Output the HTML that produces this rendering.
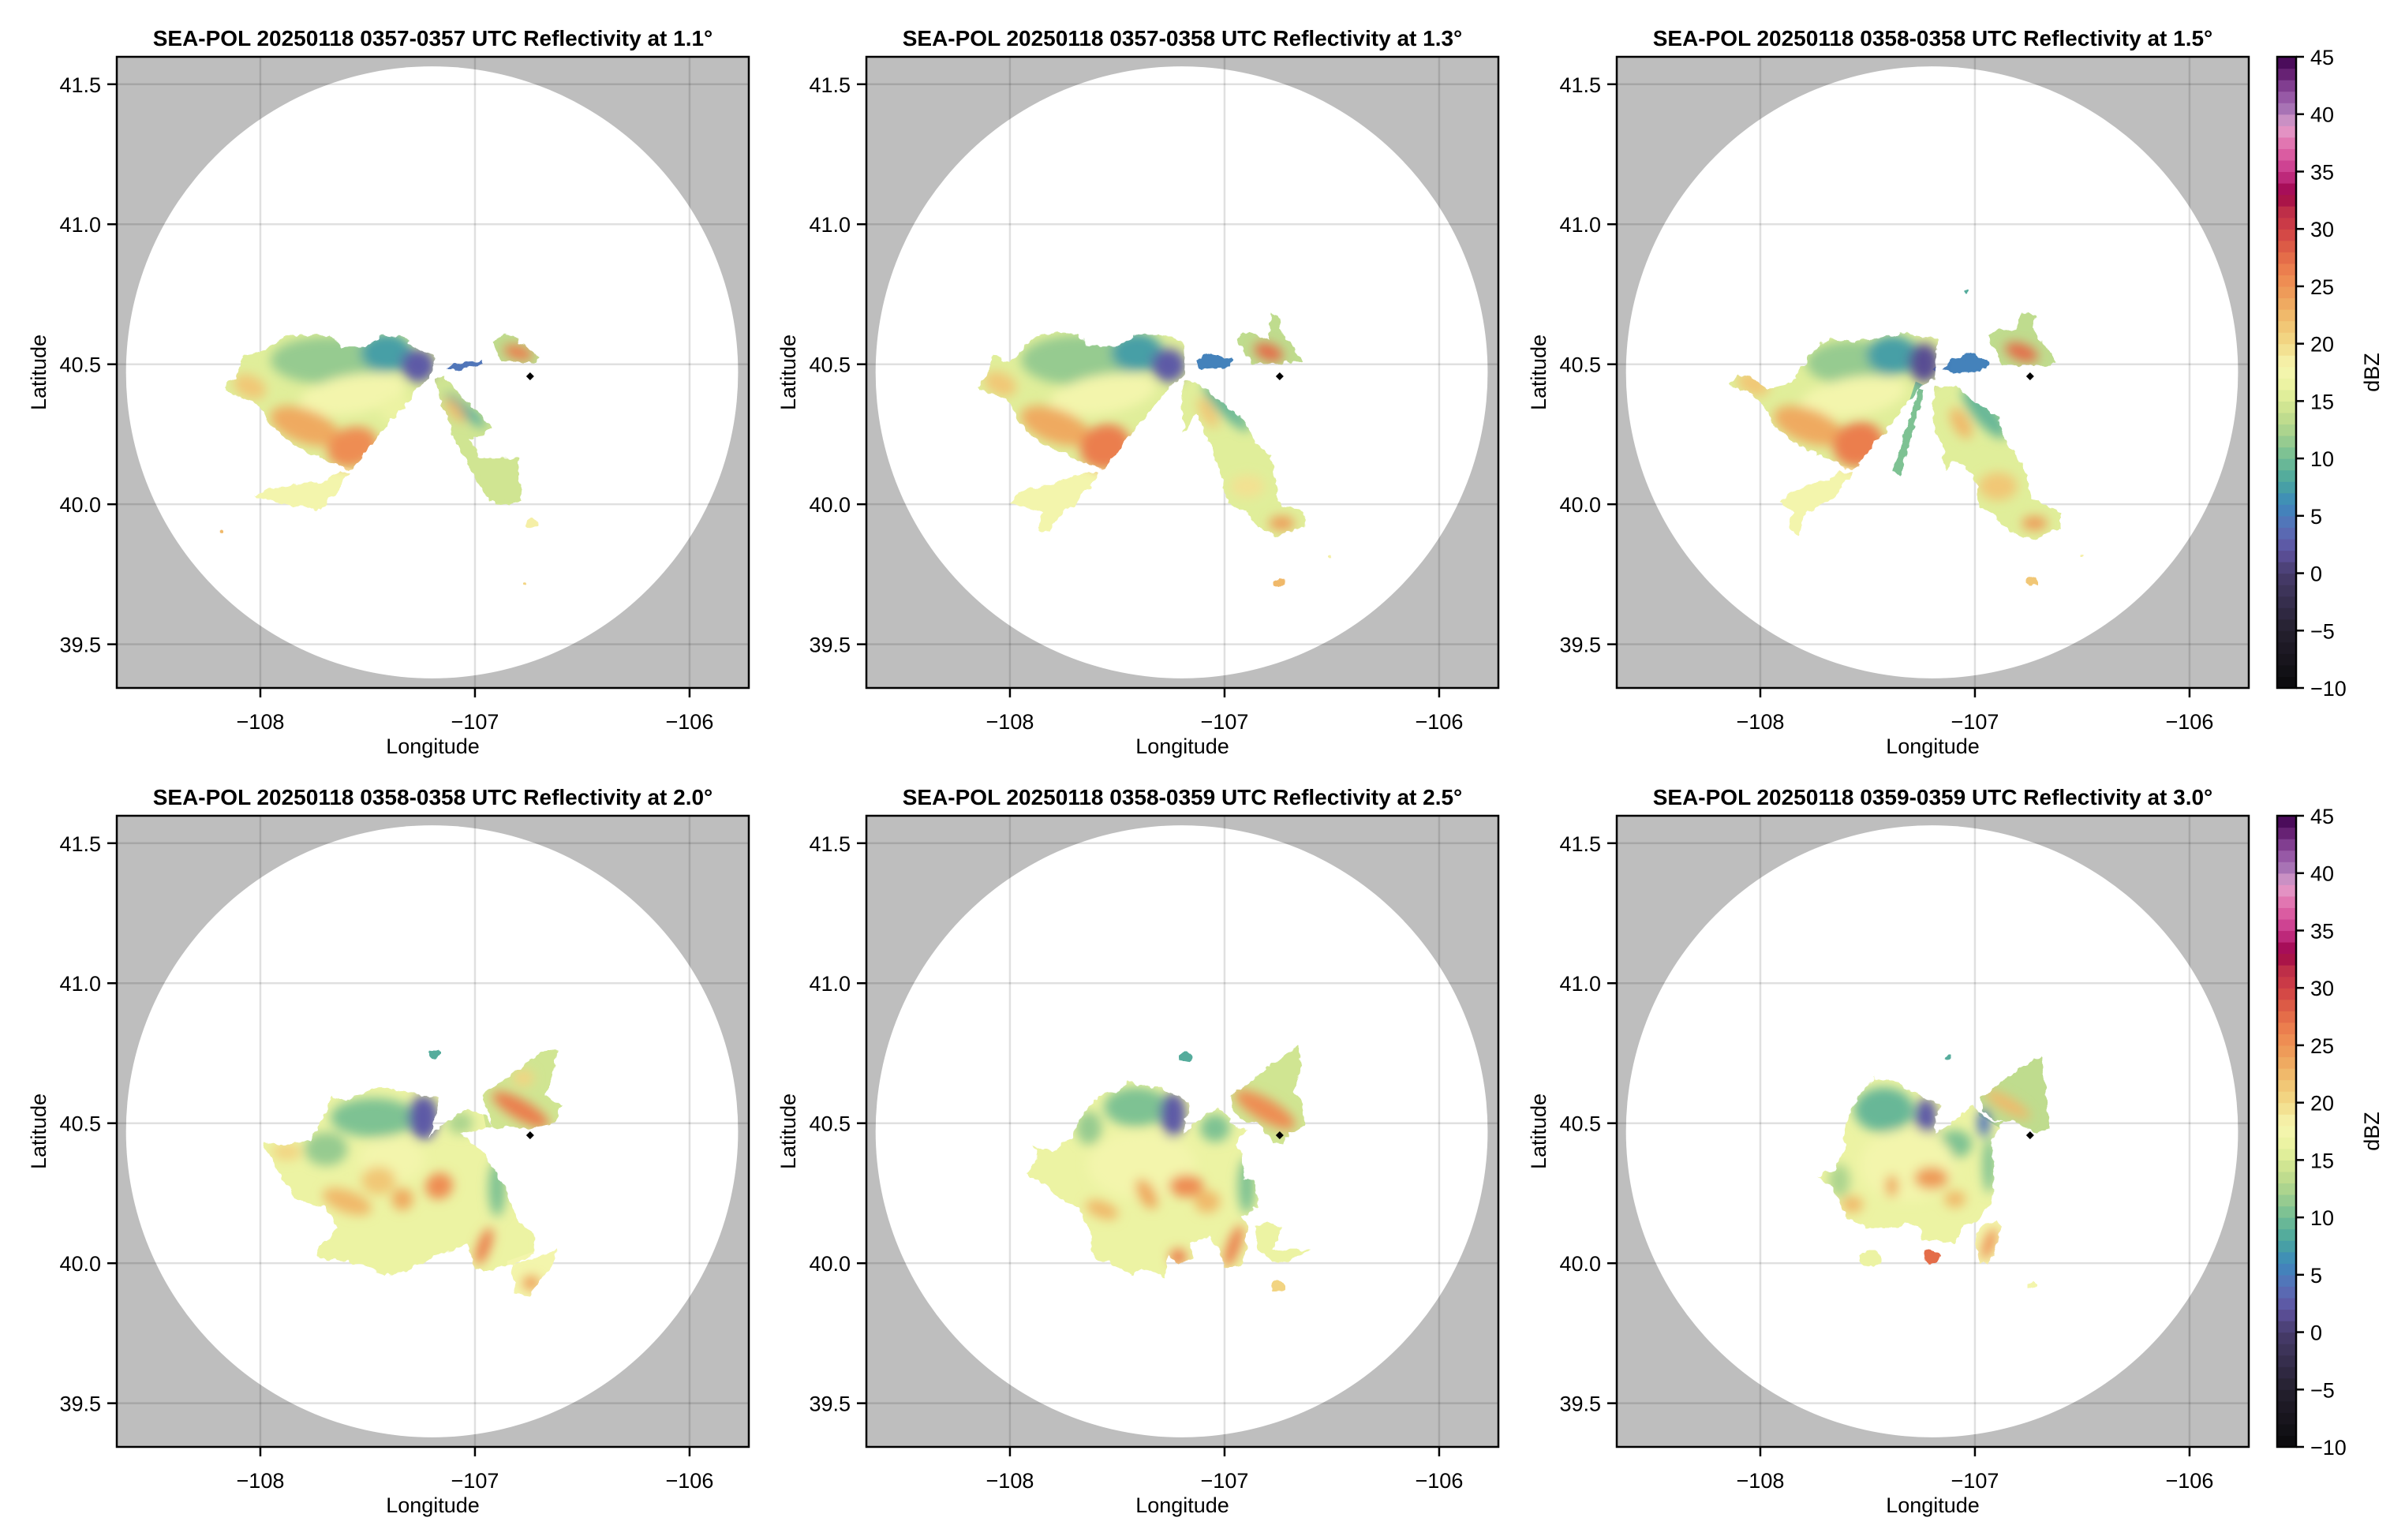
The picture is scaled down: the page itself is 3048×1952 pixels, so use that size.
<!DOCTYPE html>
<html><head><meta charset="utf-8"><style>
html,body{margin:0;padding:0;background:#fff}
svg{display:block}
text{font-family:"Liberation Sans",Arial,sans-serif;fill:#000}
</style></head><body>
<svg id="fig" width="3048" height="1952" viewBox="0 0 3048 1952" xmlns="http://www.w3.org/2000/svg">
<defs>
<filter id="rag" x="-5%" y="-5%" width="110%" height="110%"><feTurbulence type="fractalNoise" baseFrequency="0.09" numOctaves="2" seed="3"/><feDisplacementMap in="SourceGraphic" scale="10" xChannelSelector="R" yChannelSelector="G"/></filter>
<filter id="soft" x="-50%" y="-50%" width="200%" height="200%"><feGaussianBlur stdDeviation="7"/></filter>
</defs>
</svg>
<script>
// ---------- data ----------
const titles = ["SEA-POL 20250118 0357-0357 UTC Reflectivity at 1.1°","SEA-POL 20250118 0357-0358 UTC Reflectivity at 1.3°","SEA-POL 20250118 0358-0358 UTC Reflectivity at 1.5°","SEA-POL 20250118 0358-0358 UTC Reflectivity at 2.0°","SEA-POL 20250118 0358-0359 UTC Reflectivity at 2.5°","SEA-POL 20250118 0359-0359 UTC Reflectivity at 3.0°"];
const xTicks = [-108,-107,-106];
const yTicks = [39.5,40.0,40.5,41.0,41.5];
const cbTicks = [-10,-5,0,5,10,15,20,25,30,35,40,45];
const radarCenter = [-107.2, 40.471];
const radarRangeKm = 121.3;
const station = [-106.743, 40.457];

const p1Regions = [
 {dbz:15, pts:[[-108.166,40.420],[-108.111,40.458],[-108.086,40.533],[-108.0,40.542],[-107.890,40.599],[-107.804,40.603],[-107.682,40.608],[-107.620,40.561],[-107.510,40.561],[-107.424,40.603],[-107.326,40.594],[-107.265,40.552],[-107.185,40.528],[-107.216,40.448],[-107.234,40.439],[-107.584,40.120],[-107.682,40.153],[-107.853,40.214],[-107.951,40.279],[-108.0,40.354],[-108.160,40.406]]},
 {dbz:4, pts:[[-107.136,40.481],[-107.093,40.505],[-106.965,40.514],[-106.965,40.500],[-107.093,40.481]]},
 {dbz:13, pts:[[-106.916,40.580],[-106.848,40.608],[-106.738,40.552],[-106.696,40.519],[-106.726,40.505],[-106.879,40.509],[-106.897,40.547]]},
 {dbz:14, pts:[[-107.192,40.448],[-107.143,40.458],[-107.093,40.411],[-106.922,40.279],[-106.959,40.251],[-107.020,40.232],[-106.983,40.167],[-106.799,40.167],[-106.787,40.016],[-106.836,39.988],[-106.934,40.016],[-106.983,40.073],[-107.093,40.232],[-107.155,40.364]]},
 {dbz:17, pts:[[-107.633,40.120],[-107.584,40.110],[-107.718,39.979],[-107.768,39.988],[-107.853,39.998],[-108.025,40.026],[-107.976,40.054],[-107.841,40.073],[-107.682,40.082]]}
];
const p1Cells = [[-107.682,40.514,.27,.085,0,11],[-107.412,40.542,.12,.07,0,7],[-107.265,40.495,.08,.06,0,2],[-107.571,40.392,.25,.07,-10,17],[-108.049,40.420,.08,.04,25,21],[-107.792,40.279,.17,.06,20,23],[-107.571,40.204,.12,.07,-20,25],[-107.363,40.336,.08,.05,0,16],[-106.799,40.542,.07,.025,15,26],[-107.044,40.336,.12,.02,40,8],[-107.093,40.336,.07,.02,50,22]];
const p1Spots = [[-106.738,39.932,.03,18],[-108.184,39.901,.012,22],[-106.765,39.716,.008,20]];

const p2Regions = [
 {dbz:15, pts:[[-108.150,40.421],[-108.107,40.458],[-108.082,40.533],[-107.996,40.505],[-107.886,40.599],[-107.788,40.613],[-107.678,40.608],[-107.629,40.561],[-107.506,40.561],[-107.420,40.604],[-107.310,40.604],[-107.200,40.590],[-107.181,40.533],[-107.188,40.458],[-107.237,40.439],[-107.567,40.120],[-107.678,40.158],[-107.849,40.214],[-107.960,40.289],[-107.996,40.364],[-108.143,40.411]]},
 {dbz:5, pts:[[-107.139,40.505],[-107.077,40.538],[-106.955,40.515],[-106.967,40.491],[-107.126,40.482]]},
 {dbz:13, pts:[[-106.942,40.594],[-106.893,40.618],[-106.795,40.590],[-106.783,40.684],[-106.734,40.665],[-106.746,40.627],[-106.697,40.580],[-106.636,40.515],[-106.734,40.505],[-106.881,40.505],[-106.918,40.561]]},
 {dbz:15, pts:[[-107.188,40.439],[-107.139,40.439],[-107.089,40.411],[-106.893,40.289],[-106.857,40.214],[-106.783,40.176],[-106.759,40.083],[-106.759,40.007],[-106.624,39.970],[-106.624,39.923],[-106.746,39.885],[-106.844,39.914],[-106.893,39.970],[-106.979,39.998],[-107.016,40.101],[-107.065,40.214],[-107.139,40.327],[-107.188,40.252],[-107.200,40.364]]},
 {dbz:17, pts:[[-107.629,40.120],[-107.580,40.111],[-107.678,40.017],[-107.751,39.970],[-107.825,39.904],[-107.874,39.914],[-107.849,39.970],[-107.996,40.007],[-107.960,40.045],[-107.813,40.073],[-107.678,40.101]]}
];
const p2Cells = [[-107.678,40.515,.27,.09,0,11],[-107.408,40.543,.12,.07,0,7],[-107.261,40.496,.08,.06,0,2],[-107.567,40.392,.25,.07,-10,17],[-108.045,40.430,.08,.04,25,21],[-107.788,40.280,.17,.06,20,23],[-107.555,40.205,.12,.08,-20,26],[-106.795,40.543,.07,.03,20,27],[-106.991,40.346,.15,.03,45,9],[-107.077,40.327,.08,.025,60,21],[-106.893,40.064,.08,.04,0,19],[-106.734,39.932,.06,.025,0,24]];
const p2Spots = [[-106.746,39.721,.025,22],[-106.507,39.815,.01,18]];

const p3Regions = [
 {dbz:15, pts:[[-108.150,40.425],[-108.094,40.468],[-107.960,40.411],[-107.862,40.430],[-107.727,40.571],[-107.678,40.590],[-107.604,40.580],[-107.482,40.590],[-107.347,40.613],[-107.224,40.599],[-107.169,40.594],[-107.181,40.533],[-107.188,40.449],[-107.224,40.430],[-107.261,40.411],[-107.567,40.120],[-107.678,40.158],[-107.849,40.223],[-107.947,40.289],[-107.960,40.327],[-108.045,40.402],[-108.143,40.421]]},
 {dbz:10, pts:[[-107.261,40.411],[-107.237,40.402],[-107.347,40.101],[-107.384,40.120]]},
 {dbz:5, pts:[[-107.151,40.486],[-107.089,40.524],[-107.016,40.543],[-106.936,40.505],[-106.942,40.486],[-107.102,40.468]]},
 {dbz:13, pts:[[-106.942,40.599],[-106.893,40.622],[-106.808,40.627],[-106.783,40.684],[-106.722,40.674],[-106.734,40.627],[-106.685,40.580],[-106.624,40.515],[-106.648,40.491],[-106.746,40.496],[-106.869,40.496],[-106.906,40.543]]},
 {dbz:15, pts:[[-107.188,40.421],[-107.089,40.421],[-106.893,40.308],[-106.869,40.233],[-106.771,40.139],[-106.734,40.017],[-106.599,39.970],[-106.599,39.914],[-106.734,39.876],[-106.844,39.904],[-106.893,39.951],[-106.979,39.989],[-107.004,40.101],[-107.077,40.158],[-107.139,40.120],[-107.151,40.214],[-107.200,40.289]]},
 {dbz:17, pts:[[-107.629,40.120],[-107.567,40.111],[-107.678,40.007],[-107.788,39.970],[-107.825,39.885],[-107.862,39.914],[-107.849,39.970],[-107.911,40.007],[-107.825,40.054],[-107.678,40.092]]}
];
const p3Cells = [[-107.567,40.505,.22,.08,0,11],[-107.384,40.533,.12,.07,0,7],[-107.237,40.505,.07,.07,0,1],[-107.567,40.383,.25,.07,-10,17],[-108.033,40.430,.08,.04,25,21],[-107.776,40.280,.17,.06,20,23],[-107.543,40.214,.12,.08,-20,26],[-106.783,40.543,.08,.03,20,27],[-106.955,40.327,.15,.04,50,9],[-107.065,40.289,.08,.03,60,22],[-106.893,40.064,.09,.05,0,21],[-106.722,39.932,.06,.025,0,24]];
const p3Spots = [[-106.734,39.726,.025,21],[-106.501,39.815,.01,18],[-107.040,40.760,.012,8]];

const p4Regions = [
 {dbz:16, pts:[[-107.988,40.436],[-107.926,40.426],[-107.767,40.436],[-107.706,40.520],[-107.669,40.595],[-107.596,40.586],[-107.473,40.623],[-107.338,40.623],[-107.240,40.595],[-107.167,40.595],[-107.191,40.483],[-107.216,40.445],[-107.142,40.501],[-107.032,40.558],[-106.946,40.520],[-106.922,40.483],[-107.069,40.464],[-106.958,40.389],[-106.897,40.314],[-106.848,40.248],[-106.799,40.145],[-106.725,40.107],[-106.725,40.032],[-106.824,39.994],[-106.922,39.975],[-106.995,39.975],[-107.044,40.069],[-107.093,40.051],[-107.216,40.013],[-107.314,39.975],[-107.424,39.957],[-107.485,39.985],[-107.596,40.004],[-107.743,40.022],[-107.718,40.069],[-107.632,40.126],[-107.694,40.201],[-107.841,40.229],[-107.890,40.295],[-107.926,40.351],[-107.982,40.417]]},
 {dbz:14, pts:[[-106.964,40.600],[-106.824,40.675],[-106.689,40.755],[-106.615,40.764],[-106.652,40.642],[-106.676,40.595],[-106.591,40.562],[-106.640,40.492],[-106.775,40.483],[-106.922,40.483],[-106.934,40.530]]},
 {dbz:17, pts:[[-106.824,39.994],[-106.615,40.051],[-106.627,40.004],[-106.701,39.938],[-106.750,39.882],[-106.811,39.891],[-106.824,39.947]]}
];
const p4Cells = [[-107.473,40.520,.2,.07,0,10],[-107.240,40.520,.07,.08,0,2],[-107.694,40.408,.1,.06,0,11],[-107.387,40.370,.15,.08,0,17],[-107.596,40.220,.12,.04,20,22],[-107.877,40.398,.07,.03,0,20],[-107.449,40.295,.08,.05,0,21],[-107.167,40.276,.06,.05,60,25],[-107.338,40.229,.05,.04,0,23],[-106.958,40.060,.03,.07,20,26],[-106.787,40.548,.15,.035,30,26],[-107.069,40.501,.06,.04,0,12],[-106.897,40.267,.04,.1,0,10],[-106.738,39.929,.04,.025,0,24],[-106.775,40.661,.05,.03,0,20]];
const p4Spots = [[-107.191,40.746,.03,8]];

const p5Regions = [
 {dbz:16, pts:[[-107.890,40.417],[-107.804,40.398],[-107.718,40.445],[-107.669,40.520],[-107.608,40.586],[-107.559,40.605],[-107.485,40.614],[-107.461,40.652],[-107.387,40.633],[-107.314,40.633],[-107.216,40.595],[-107.167,40.577],[-107.191,40.464],[-107.142,40.501],[-107.032,40.558],[-106.971,40.501],[-106.897,40.473],[-106.946,40.426],[-106.922,40.389],[-106.909,40.304],[-106.860,40.295],[-106.848,40.201],[-106.922,40.163],[-106.897,40.135],[-106.897,40.051],[-106.922,39.994],[-106.995,39.985],[-107.032,40.060],[-107.069,40.098],[-107.167,40.069],[-107.142,40.022],[-107.216,39.994],[-107.265,40.032],[-107.277,39.947],[-107.387,39.985],[-107.424,39.957],[-107.510,39.994],[-107.596,40.013],[-107.620,40.051],[-107.632,40.126],[-107.681,40.201],[-107.779,40.238],[-107.865,40.295],[-107.926,40.323],[-107.877,40.370]]},
 {dbz:14, pts:[[-106.971,40.595],[-106.775,40.708],[-106.652,40.778],[-106.652,40.689],[-106.676,40.614],[-106.633,40.567],[-106.627,40.483],[-106.701,40.464],[-106.725,40.426],[-106.775,40.436],[-106.848,40.501],[-106.934,40.511],[-106.958,40.548]]},
 {dbz:16, pts:[[-106.860,40.135],[-106.775,40.145],[-106.738,40.126],[-106.775,40.051],[-106.603,40.051],[-106.701,40.004],[-106.775,40.004],[-106.848,40.051]]}
];
const p5Cells = [[-107.412,40.558,.15,.07,0,10],[-107.240,40.530,.06,.08,0,2],[-107.632,40.483,.06,.06,0,11],[-107.387,40.351,.25,.12,0,17],[-107.179,40.276,.08,.04,0,25],[-107.363,40.248,.04,.06,-30,23],[-107.571,40.191,.08,.03,20,22],[-107.081,40.220,.06,.04,0,22],[-106.958,40.060,.03,.08,20,26],[-107.216,40.022,.04,.03,0,26],[-106.811,40.548,.16,.04,30,25],[-107.044,40.483,.07,.05,0,10],[-106.897,40.276,.04,.1,0,10]];
const p5Spots = [[-106.750,39.919,.03,20],[-107.179,40.736,.03,8]];

const p6Regions = [
 {dbz:16, pts:[[-107.743,40.314],[-107.657,40.332],[-107.608,40.408],[-107.608,40.483],[-107.547,40.595],[-107.473,40.661],[-107.363,40.642],[-107.265,40.605],[-107.167,40.567],[-107.191,40.464],[-107.142,40.483],[-107.007,40.567],[-106.958,40.520],[-106.873,40.501],[-106.922,40.436],[-106.909,40.314],[-106.922,40.229],[-106.958,40.182],[-106.995,40.145],[-107.056,40.135],[-107.093,40.069],[-107.240,40.088],[-107.265,40.135],[-107.314,40.145],[-107.363,40.126],[-107.510,40.126],[-107.596,40.163],[-107.632,40.220],[-107.657,40.267]]},
 {dbz:13, pts:[[-106.971,40.595],[-106.824,40.680],[-106.689,40.746],[-106.676,40.642],[-106.652,40.483],[-106.713,40.464],[-106.824,40.511],[-106.873,40.501],[-106.958,40.539]]},
 {dbz:17, pts:[[-106.983,40.126],[-106.897,40.154],[-106.873,40.135],[-106.934,40.004],[-106.983,39.994],[-106.995,40.051]]}
];
const p6Cells = [[-107.424,40.548,.14,.08,0,9],[-107.228,40.520,.05,.07,0,2],[-106.958,40.501,.03,.05,0,4],[-107.093,40.426,.08,.05,0,10],[-107.314,40.351,.22,.13,0,17],[-107.203,40.304,.08,.04,0,24],[-107.387,40.276,.03,.04,0,23],[-107.571,40.210,.05,.03,0,22],[-107.093,40.229,.05,.03,0,22],[-106.848,40.567,.12,.025,30,22],[-107.632,40.295,.05,.06,0,12],[-106.934,40.351,.03,.1,0,10],[-106.934,40.069,.025,.06,20,25]];
const p6Spots = [[-107.203,40.022,.04,27],[-107.485,40.013,.05,16],[-106.732,39.924,.02,17],[-107.130,40.735,.015,8]];

const allRegions = [p1Regions,p2Regions,p3Regions,p4Regions,p5Regions,p6Regions];
const allCells = [p1Cells,p2Cells,p3Cells,p4Cells,p5Cells,p6Cells];
const allSpots = [p1Spots,p2Spots,p3Spots,p4Spots,p5Spots,p6Spots];

// colormap stops (dBZ, colour)
const cmapVals = [-10,-5,0,2,4,6,8,10,12,14,16,18,20,22,24,26,28,30,32,33,35,37,39,40,42,44,45];
const cmapCols = ["#0a0a0c","#25202e","#473c6c","#5f52a0","#5870b8","#3d88bc","#4aa69e","#72bd94","#a2d08e","#c8e08e","#e8f29e","#f6f6b0","#f2da88","#f0c070","#eea25c","#ee8650","#e06446","#d04046","#b82848","#9c0048","#c8368a","#e068a8","#e4a0cc","#b080bc","#8e4c9e","#5a1466","#3c0450"];

// ---------- layout ----------
const NS="http://www.w3.org/2000/svg";
const svg=document.getElementById('fig');
const colX=[148,1098,2049], rowY=[72,1034], PW=801, PH=800;
const lonMin=-108.669, lonMax=-105.724, latMin=39.344, latMax=41.598;
function el(tag,attrs,parent){const e=document.createElementNS(NS,tag);for(const k in attrs)e.setAttribute(k,attrs[k]);(parent||svg).appendChild(e);return e;}
function hex2rgb(h){return [parseInt(h.substr(1,2),16),parseInt(h.substr(3,2),16),parseInt(h.substr(5,2),16)];}
function cmap(v){
  v=Math.floor(v)+0.5;
  if(v<=cmapVals[0])return cmapCols[0];
  for(let i=1;i<cmapVals.length;i++){if(v<=cmapVals[i]){const t=(v-cmapVals[i-1])/(cmapVals[i]-cmapVals[i-1]);const a=hex2rgb(cmapCols[i-1]),b=hex2rgb(cmapCols[i]);return `rgb(${a.map((c,j)=>Math.round(c+(b[j]-c)*t)).join(',')})`;}}
  return cmapCols[cmapCols.length-1];
}
const fmtNeg=v=>(v<0?'\u2212':'')+Math.abs(v);

for(let p=0;p<6;p++){
  const x0=colX[p%3], y0=rowY[Math.floor(p/3)];
  const sx=v=>x0+(v-lonMin)/(lonMax-lonMin)*PW;
  const sy=v=>y0+(latMax-v)/(latMax-latMin)*PH;
  const pxPerLat=PH/(latMax-latMin), pxPerLon=PW/(lonMax-lonMin);
  const g=el('g',{});
  
  
  const cid='clip'+p;
  const cp=el('clipPath',{id:cid},g); el('rect',{x:x0,y:y0,width:PW,height:PH},cp);
  const bg=el('rect',{x:x0,y:y0,width:PW,height:PH,fill:'#bebebe'},g);
  
  
  const circ=el('circle',{cx:sx(radarCenter[0]),cy:sy(radarCenter[1]),r:radarRangeKm/111*pxPerLat,fill:'#fff','clip-path':`url(#${cid})`},g);
  
  
  xTicks.forEach(t=>{const l=el('line',{x1:sx(t),x2:sx(t),y1:y0,y2:y0+PH,stroke:'rgba(0,0,0,0.12)','stroke-width':2.5},g);});
  yTicks.forEach(t=>{const l=el('line',{x1:x0,x2:x0+PW,y1:sy(t),y2:sy(t),stroke:'rgba(0,0,0,0.12)','stroke-width':2.5},g);});
  const mid='mask'+p;
  const mk=el('mask',{id:mid,maskUnits:'userSpaceOnUse',x:x0,y:y0,width:PW,height:PH},g);
  const mg=el('g',{filter:'url(#rag)'},mk);
  const ptsStr=r=>r.pts.map(q=>sx(q[0]).toFixed(1)+','+sy(q[1]).toFixed(1)).join(' ');
  allRegions[p].forEach(r=>el('polygon',{points:ptsStr(r),fill:'#fff'},mg));
  const echo=el('g',{mask:`url(#${mid})`},g);
  
  
  allRegions[p].forEach(r=>{const pg=el('polygon',{points:ptsStr(r),fill:cmap(r.dbz),stroke:cmap(r.dbz),'stroke-width':14},echo);});
  const cg=el('g',{filter:'url(#soft)'},echo);
  allCells[p].forEach(c=>{const cx=sx(c[0]),cy=sy(c[1]);const e=el('ellipse',{cx:cx,cy:cy,rx:c[2]*pxPerLon,ry:c[3]*pxPerLat,transform:`rotate(${c[4]} ${cx} ${cy})`,fill:cmap(c[5])},cg);});
  allSpots[p].forEach(s=>{const e=el('ellipse',{cx:sx(s[0]),cy:sy(s[1]),rx:s[2]*pxPerLon,ry:s[2]*pxPerLat*0.6,fill:cmap(s[3]),filter:'url(#rag)'},g);});
  const sxp=sx(station[0]), syp=sy(station[1]);
  const st=el('polygon',{points:`${sxp},${syp-5} ${sxp+5},${syp} ${sxp},${syp+5} ${sxp-5},${syp}`,fill:'#000'},g);
  
  
  const fr=el('rect',{x:x0,y:y0,width:PW,height:PH,fill:'none',stroke:'#000','stroke-width':2.5},g);
  
  
  xTicks.forEach(t=>{el('line',{x1:sx(t),x2:sx(t),y1:y0+PH,y2:y0+PH+12,stroke:'#000','stroke-width':2.5},g);const tx=el('text',{x:sx(t),y:y0+PH+52,'font-size':27,'text-anchor':'middle'},g);tx.textContent=fmtNeg(t);});
  yTicks.forEach(t=>{el('line',{x1:x0-12,x2:x0,y1:sy(t),y2:sy(t),stroke:'#000','stroke-width':2.5},g);const tx=el('text',{x:x0-20,y:sy(t)+10,'font-size':27,'text-anchor':'end'},g);tx.textContent=t.toFixed(1);});
  const xl=el('text',{x:x0+PW/2,y:y0+PH+83,'font-size':27,'text-anchor':'middle'},g);xl.textContent='Longitude';
  
  
  const yl=el('text',{x:0,y:0,'font-size':27,'text-anchor':'middle',transform:`translate(${x0-90},${y0+PH/2}) rotate(-90)`},g);yl.textContent='Latitude';
  
  
  const tt=el('text',{x:x0+PW/2,y:y0-14,'font-size':28,'font-weight':'bold','text-anchor':'middle'},g);tt.textContent=titles[p];
  
  
}
for(let r=0;r<2;r++){
  const y0=rowY[r], cx0=2886, cw=24, vmin=-10, vmax=45;
  const cy=v=>y0+(vmax-v)/(vmax-vmin)*PH;
  const g=el('g',{});
  
  
  for(let v=vmin;v<vmax;v++){el('rect',{x:cx0,y:cy(v+1),width:cw,height:cy(v)-cy(v+1)+0.6,fill:cmap(v)},g);}
  el('rect',{x:cx0,y:y0,width:cw,height:PH,fill:'none',stroke:'#000','stroke-width':2.5},g);
  cbTicks.forEach(t=>{el('line',{x1:cx0+cw,x2:cx0+cw+10,y1:cy(t),y2:cy(t),stroke:'#000','stroke-width':2.5},g);const tx=el('text',{x:2928,y:cy(t)+10,'font-size':27},g);tx.textContent=fmtNeg(t);});
  const lb=el('text',{x:0,y:0,'font-size':27,'text-anchor':'middle',transform:`translate(3015,${y0+PH/2}) rotate(-90)`},g);lb.textContent='dBZ';
  
  
}
</script>
</body></html>
